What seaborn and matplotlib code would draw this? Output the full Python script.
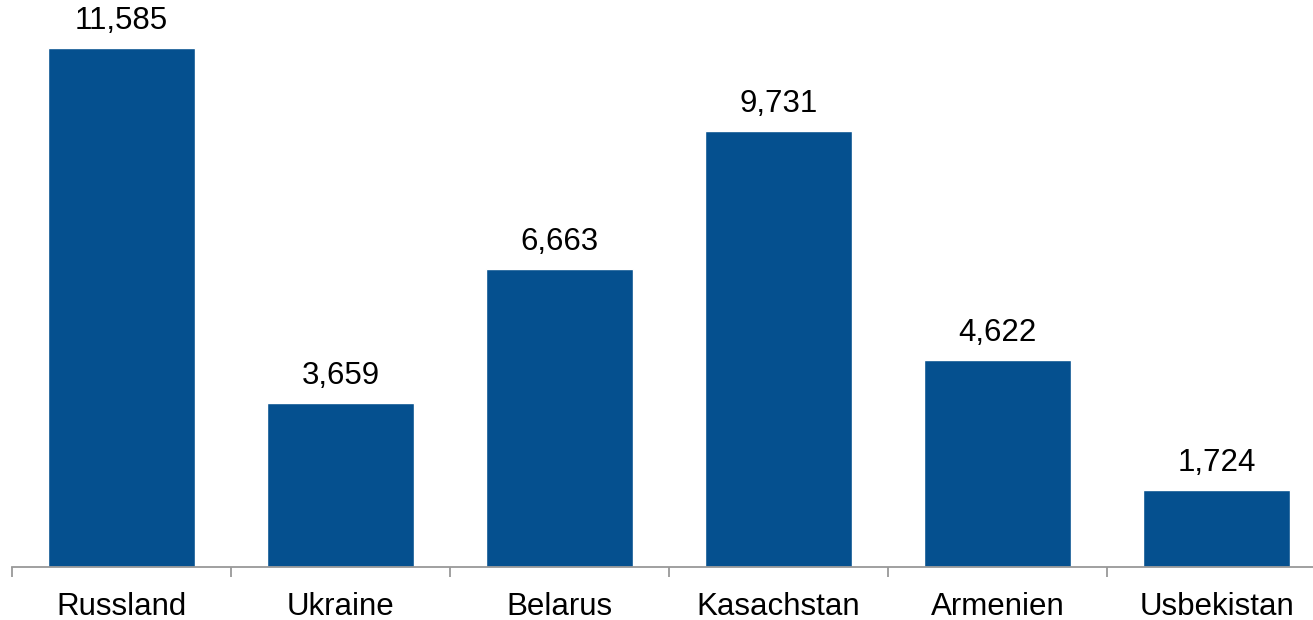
import matplotlib
matplotlib.use("Agg")
import matplotlib.pyplot as plt
import seaborn as sns
import numpy as np

categories = ["Russland", "Ukraine", "Belarus", "Kasachstan", "Armenien", "Usbekistan"]
values = [11585, 3659, 6663, 9731, 4622, 1724]

sns.set_style("white")
plt.rcParams['font.family'] = ['Liberation Sans', 'DejaVu Sans']

W, H = 1313, 620
fig = plt.figure(figsize=(W / 100, H / 100), dpi=100)
left = 12 / W
right = 1326 / W
bottom = (H - 567) / H
ax = fig.add_axes([left, bottom, right - left, 1 - bottom])

sns.barplot(x=categories, y=values, color="#05508F", saturation=1, width=0.67, ax=ax)

ymax = 11585 * 567 / 519
ax.set_ylim(0, ymax)
ax.set_xlim(-0.5, len(categories) - 0.5)

for c in ax.containers:
    ax.bar_label(c, labels=[f"{v:,.0f}" for v in values], padding=8.5, fontsize=22.5, color="black")

for s in ["top", "right", "left"]:
    ax.spines[s].set_visible(False)
ax.spines["bottom"].set_color("#999999")
ax.spines["bottom"].set_linewidth(1.3)
ax.set_yticks([])
ax.set_ylabel("")
ax.set_xlabel("")
ax.set_xticks(np.arange(len(categories)))
ax.set_xticklabels(categories, fontsize=22.5, color="black")
ax.tick_params(axis="x", which="major", length=0, pad=18, bottom=True)
ax.set_xticks(np.arange(len(categories) + 1) - 0.5, minor=True)
ax.tick_params(axis="x", which="minor", length=7, width=1.3, color="#999999",
               direction="out", bottom=True)

fig.savefig("out.png", dpi=100)
